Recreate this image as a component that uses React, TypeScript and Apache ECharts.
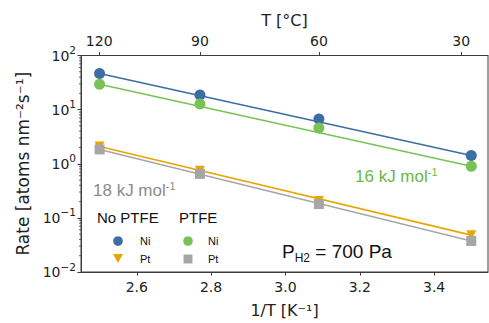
import React, { useEffect, useRef } from "react";
import * as echarts from "echarts";

// ---- data ----
const invT = [2.5, 2.77, 3.09, 3.5];
const niNoPTFE = [46.5, 18.7, 6.7, 1.42];
const niPTFE = [29.5, 12.7, 4.57, 0.9];
const ptNoPTFE = [2.08, 0.74, 0.205, 0.048];
const ptPTFE = [1.84, 0.65, 0.18, 0.0375];

const fitX = [2.5, 3.5];
const fitNiNoPTFE = [46.5, 1.42];
const fitNiPTFE = [29.5, 0.9];
const fitPtNoPTFE = [2.08, 0.048];
const fitPtPTFE = [1.84, 0.0375];

const bottomTicks = [2.6, 2.8, 3.0, 3.2, 3.4];
const topTickValues = [2.499, 2.77, 3.09, 3.473];
const topTickLabels = ["120", "90", "60", "30"];
const yMinorTicks = [
  0.02, 0.03, 0.04, 0.05, 0.06, 0.07, 0.08, 0.09,
  0.2, 0.3, 0.4, 0.5, 0.6, 0.7, 0.8, 0.9,
  2, 3, 4, 5, 6, 7, 8, 9,
  20, 30, 40, 50, 60, 70, 80, 90,
];

const X_MIN = 2.45;
const X_MAX = 3.545;

const BLUE = "#3a6ea5";
const GREEN = "#78c257";
const ORANGE = "#e8a600";
const GREY = "#a6a6a6";
const AXIS = "#3c3c3c";
const AX_FONT = "DejaVu Sans";
const ANN_FONT = "Liberation Sans";

const pairs = (xs: number[], ys: number[]) => xs.map((x, i) => [x, ys[i]]);

export default function App() {
  const ref = useRef<HTMLDivElement>(null);

  useEffect(() => {
    if (!ref.current) return;
    const chart = echarts.init(ref.current, undefined, { renderer: "svg" });

    const fitLine = (name: string, ys: number[], color: string, z: number) => ({
      name,
      type: "line",
      data: pairs(fitX, ys),
      showSymbol: false,
      symbol: "none",
      lineStyle: { color, width: 1.6 },
      z,
      silent: true,
    });

    const scatter = (
      name: string,
      ys: number[],
      color: string,
      symbol: string,
      size: number,
      z: number,
      rotate = 0
    ) => ({
      name,
      type: "scatter",
      data: pairs(invT, ys),
      symbol,
      symbolSize: size,
      symbolRotate: rotate,
      itemStyle: { color, opacity: 1 },
      z,
    });

    const option: any = {
      animation: false,
      backgroundColor: "#ffffff",
      grid: {
        left: 81,
        right: 1,
        top: 55.5,
        bottom: 45,
        show: true,
        borderColor: AXIS,
        borderWidth: 1,
        backgroundColor: "transparent",
      },
      xAxis: [
        {
          type: "value",
          position: "bottom",
          min: X_MIN,
          max: X_MAX,
          axisLine: { show: true, onZero: false, lineStyle: { color: AXIS, width: 1 } },
          axisTick: {
            show: true,
            length: 3.5,
            customValues: bottomTicks,
            lineStyle: { color: AXIS },
          },
          axisLabel: {
            customValues: bottomTicks,
            formatter: (v: number) => v.toFixed(1),
            fontFamily: AX_FONT,
            fontSize: 14,
            color: "#222",
            margin: 8,
          },
          splitLine: { show: false },
          name: "1/T [K⁻¹]",
          nameLocation: "middle",
          nameGap: 30,
          nameTextStyle: { fontFamily: AX_FONT, fontSize: 16, color: "#222" },
        },
        {
          type: "value",
          position: "top",
          min: X_MIN,
          max: X_MAX,
          axisLine: { show: true, onZero: false, lineStyle: { color: AXIS, width: 1 } },
          axisTick: {
            show: true,
            length: 3.5,
            customValues: topTickValues,
            lineStyle: { color: AXIS },
          },
          axisLabel: {
            customValues: topTickValues,
            formatter: (v: number) => {
              let best = 0;
              topTickValues.forEach((t, i) => {
                if (Math.abs(t - v) < Math.abs(topTickValues[best] - v)) best = i;
              });
              return topTickLabels[best];
            },
            fontFamily: AX_FONT,
            fontSize: 14,
            color: "#222",
            margin: 8,
          },
          splitLine: { show: false },
          name: "T [°C]",
          nameLocation: "middle",
          nameGap: 25,
          nameTextStyle: { fontFamily: AX_FONT, fontSize: 16, color: "#222" },
        },
      ],
      yAxis: {
        type: "log",
        logBase: 10,
        min: 0.01,
        max: 100,
        axisLine: { show: true, onZero: false, lineStyle: { color: AXIS, width: 1 } },
        axisTick: { show: true, length: 3.5, lineStyle: { color: AXIS } },
        axisLabel: {
          fontFamily: AX_FONT,
          color: "#222",
          margin: 5,
          formatter: (v: number) => {
            const e = Math.round(Math.log10(v));
            const s = e < 0 ? "−" + Math.abs(e) : String(e);
            return `{b|10}{s|${s}}`;
          },
          rich: {
            b: { fontFamily: AX_FONT, fontSize: 14, color: "#222", lineHeight: 22 },
            s: {
              fontFamily: AX_FONT,
              fontSize: 10.5,
              color: "#222",
              lineHeight: 12,
              verticalAlign: "top",
            },
          },
        },
        splitLine: { show: false },
        minorTick: { show: false },
        name: "Rate [atoms nm⁻²s⁻¹]",
        nameLocation: "middle",
        nameGap: 46,
        nameRotate: 90,
        nameTextStyle: { fontFamily: AX_FONT, fontSize: 17, color: "#222" },
      },
      series: [
        {
          type: "custom",
          name: "minorTicks",
          clip: false,
          silent: true,
          data: yMinorTicks.map((v) => [X_MIN, v]),
          renderItem: (params: any, api: any) => {
            const p = api.coord([api.value(0), api.value(1)]);
            return {
              type: "line",
              shape: { x1: p[0] - 2, y1: p[1], x2: p[0], y2: p[1] },
              style: { stroke: AXIS, lineWidth: 0.8 },
            };
          },
          z: 1,
        },
        fitLine("fitNiNo", fitNiNoPTFE, BLUE, 2),
        fitLine("fitNiPTFE", fitNiPTFE, GREEN, 2),
        fitLine("fitPtPTFE", fitPtPTFE, GREY, 2),
        fitLine("fitPtNo", fitPtNoPTFE, ORANGE, 3),
        scatter("Ni no PTFE", niNoPTFE, BLUE, "circle", 11, 5),
        scatter("Ni PTFE", niPTFE, GREEN, "circle", 11, 5),
        scatter("Pt no PTFE", ptNoPTFE, ORANGE, "triangle", 10, 5, 180),
        scatter("Pt PTFE", ptPTFE, GREY, "rect", 10, 6),
      ],
      graphic: [
        {
          type: "text",
          left: 93,
          top: 180,
          style: {
            text: "{a|18 kJ mol}{s|-1}",
            rich: {
              a: { fontFamily: ANN_FONT, fontSize: 17, fill: "#8c8c8c", lineHeight: 20 },
              s: { fontFamily: ANN_FONT, fontSize: 11, fill: "#8c8c8c", lineHeight: 12, verticalAlign: "top" },
            },
          },
        },
        {
          type: "text",
          left: 355,
          top: 166,
          style: {
            text: "{a|16 kJ mol}{s|-1}",
            rich: {
              a: { fontFamily: ANN_FONT, fontSize: 17, fill: "#6cb845", lineHeight: 20 },
              s: { fontFamily: ANN_FONT, fontSize: 11, fill: "#6cb845", lineHeight: 12, verticalAlign: "top" },
            },
          },
        },
        {
          type: "text",
          left: 97,
          top: 210,
          style: { text: "No PTFE", fontFamily: ANN_FONT, fontSize: 15, fill: "#111" },
        },
        {
          type: "text",
          left: 179,
          top: 210,
          style: { text: "PTFE", fontFamily: ANN_FONT, fontSize: 15, fill: "#111" },
        },
        { type: "circle", shape: { cx: 118, cy: 241, r: 4.8 }, style: { fill: BLUE } },
        {
          type: "polygon",
          shape: { points: [[113, 254], [123, 254], [118, 263]] },
          style: { fill: ORANGE },
        },
        { type: "circle", shape: { cx: 188, cy: 241, r: 4.8 }, style: { fill: GREEN } },
        { type: "rect", shape: { x: 183.5, y: 254.5, width: 9, height: 9 }, style: { fill: GREY } },
        { type: "text", left: 140, top: 235, style: { text: "Ni", fontFamily: ANN_FONT, fontSize: 11, fill: "#111" } },
        { type: "text", left: 140, top: 253, style: { text: "Pt", fontFamily: ANN_FONT, fontSize: 11, fill: "#111" } },
        { type: "text", left: 208, top: 235, style: { text: "Ni", fontFamily: ANN_FONT, fontSize: 11, fill: "#111" } },
        { type: "text", left: 208, top: 253, style: { text: "Pt", fontFamily: ANN_FONT, fontSize: 11, fill: "#111" } },
        {
          type: "text",
          left: 282,
          top: 242,
          style: {
            text: "{a|P}{s|H2}{a| = 700 Pa}",
            rich: {
              a: { fontFamily: ANN_FONT, fontSize: 19, fill: "#111", lineHeight: 24 },
              s: { fontFamily: ANN_FONT, fontSize: 12, fill: "#111", lineHeight: 14, verticalAlign: "bottom" },
            },
          },
        },
      ],
    };

    chart.setOption(option);
    return () => chart.dispose();
  }, []);

  return <div ref={ref} style={{ width: 489, height: 323, position: "absolute", left: 0, top: 0 }} />;
}
